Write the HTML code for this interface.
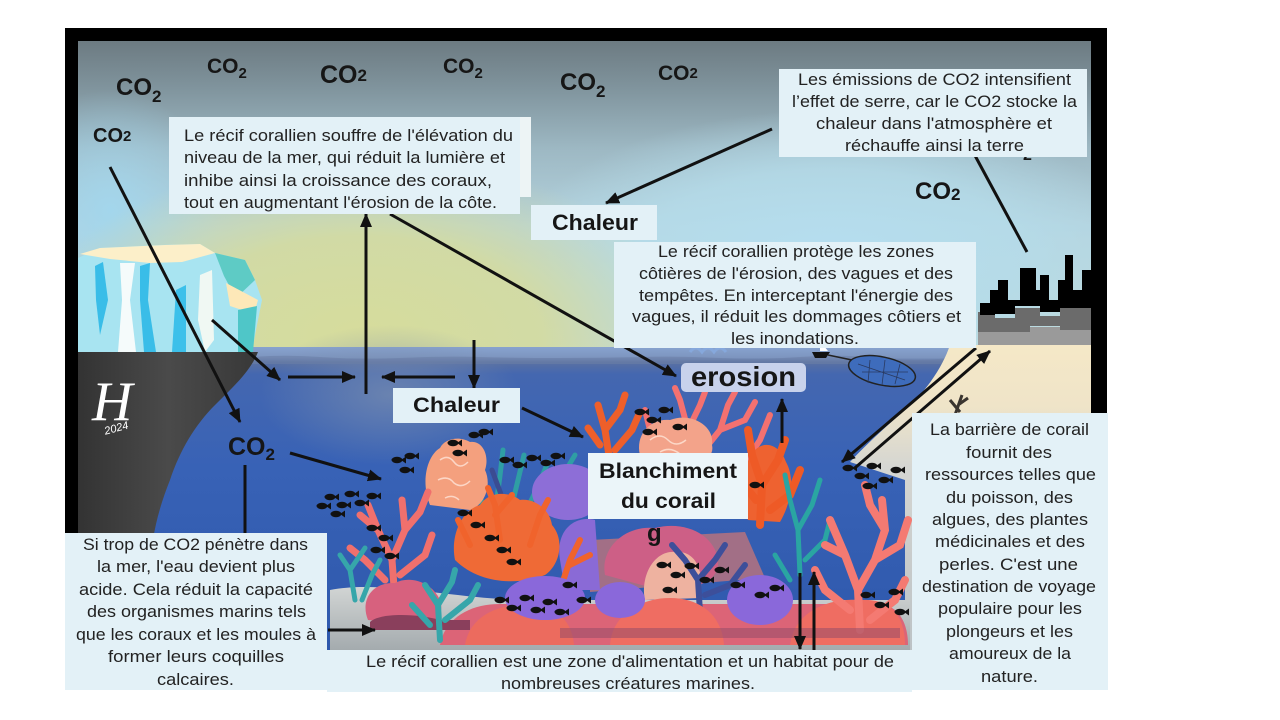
<!DOCTYPE html>
<html><head><meta charset="utf-8"><style>
html,body{margin:0;padding:0;background:#fff;}
svg{display:block}
.t{font-family:"Liberation Sans",Arial,sans-serif;font-size:17px;fill:#222;}
.bd{font-family:"Liberation Sans",Arial,sans-serif;font-weight:bold;fill:#161616;}
</style></head><body>
<svg width="1280" height="720" viewBox="0 0 1280 720" xmlns="http://www.w3.org/2000/svg">
<defs>
<clipPath id="inner"><rect x="78" y="41" width="1013" height="612"/></clipPath>
<linearGradient id="skyG" x1="0" y1="40" x2="0" y2="350" gradientUnits="userSpaceOnUse">
<stop offset="0" stop-color="#6c7a81"/><stop offset="0.15" stop-color="#7f939c"/><stop offset="0.35" stop-color="#9db8c3"/><stop offset="0.6" stop-color="#b4d3de"/><stop offset="1" stop-color="#c2dbd8"/>
</linearGradient>
<radialGradient id="glowG"><stop offset="0" stop-color="#d6dc9c"/><stop offset="0.55" stop-color="#d4db9f" stop-opacity="0.9"/><stop offset="1" stop-color="#d0d9a8" stop-opacity="0"/></radialGradient>
<radialGradient id="blueG"><stop offset="0" stop-color="#b5def0"/><stop offset="0.6" stop-color="#b5dcea" stop-opacity="0.8"/><stop offset="1" stop-color="#b5dcea" stop-opacity="0"/></radialGradient>
<radialGradient id="lblueG"><stop offset="0" stop-color="#a3d6ec"/><stop offset="1" stop-color="#a3d6ec" stop-opacity="0"/></radialGradient>
<linearGradient id="seaG" x1="0" y1="347" x2="0" y2="650" gradientUnits="userSpaceOnUse">
<stop offset="0" stop-color="#88a3cf"/><stop offset="0.035" stop-color="#7d95bf"/><stop offset="0.05" stop-color="#5a71a2"/><stop offset="0.09" stop-color="#4467b0"/><stop offset="0.4" stop-color="#3862b6"/><stop offset="1" stop-color="#2e58ac"/>
</linearGradient>
<radialGradient id="rayG"><stop offset="0" stop-color="#7b8fb0" stop-opacity="0.7"/><stop offset="1" stop-color="#7b8fb0" stop-opacity="0"/></radialGradient>
<linearGradient id="sandG" x1="0" y1="345" x2="0" y2="650" gradientUnits="userSpaceOnUse">
<stop offset="0" stop-color="#f5e8c7"/><stop offset="0.2" stop-color="#efe4c8"/><stop offset="0.4" stop-color="#d5d6d2"/><stop offset="1" stop-color="#bcc2c5"/>
</linearGradient>
<linearGradient id="floorG" x1="0" y1="585" x2="0" y2="650" gradientUnits="userSpaceOnUse">
<stop offset="0" stop-color="#d3d6d5"/><stop offset="1" stop-color="#a4abae"/>
</linearGradient>
<linearGradient id="cliffG" x1="78" y1="0" x2="258" y2="0" gradientUnits="userSpaceOnUse">
<stop offset="0" stop-color="#333"/><stop offset="0.5" stop-color="#4a4a4a"/><stop offset="1" stop-color="#383838"/>
</linearGradient>
<marker id="ah" markerWidth="14" markerHeight="12" refX="13" refY="6" orient="auto" markerUnits="userSpaceOnUse">
<path d="M0,0 L14,6 L0,12 z" fill="#111"/>
</marker>
<g id="f"><ellipse cx="0" cy="0" rx="5.5" ry="3.2" fill="#111"/><path d="M4,0 L9,-3.5 L9,3.5 Z" fill="#111"/></g>
</defs>

<!-- frame -->
<rect x="65" y="28" width="1042" height="630" fill="#000"/>
<g clip-path="url(#inner)">
<!-- sky -->
<rect x="78" y="41" width="1013" height="310" fill="url(#skyG)"/>
<ellipse cx="110" cy="210" rx="110" ry="120" fill="url(#lblueG)"/>
<ellipse cx="830" cy="260" rx="320" ry="150" fill="url(#blueG)"/>
<ellipse cx="360" cy="335" rx="330" ry="180" fill="url(#glowG)"/>
<!-- sea -->
<rect x="78" y="347" width="1013" height="306" fill="url(#seaG)"/>
<ellipse cx="390" cy="395" rx="130" ry="70" fill="url(#rayG)"/>
<path d="M78,358 Q120,354 160,358 T240,358 T320,357 T400,358 T480,357 T560,358 T640,357 T720,358 T800,357 T880,358 T960,357 L960,364 L78,364 Z" fill="#6a7fa6" opacity="0.6"/>
<path d="M690,352 q6,-8 12,0 q6,-8 12,0 q6,-8 12,0" stroke="#86a8dc" stroke-width="3" fill="none"/>

<!-- sand right -->
<path d="M950,345 L1091,345 L1091,653 L905,653 L905,480 L850,462 C870,440 900,415 920,395 C935,378 945,360 950,345 Z" fill="url(#sandG)"/>
<path d="M955,415 L962,395 M958,405 L968,398 M960,412 L950,400" stroke="#3a3530" stroke-width="3" fill="none"/>
<!-- city -->
<path d="M978,345 L978,327 L1091,327 L1091,345 Z" fill="#9a9a9a"/>
<path d="M978,332 L978,312 L995,312 L995,318 L1015,318 L1015,308 L1040,308 L1040,316 L1060,316 L1060,306 L1091,306 L1091,330 L1060,330 L1060,326 L1030,326 L1030,332 Z" fill="#6b6b6b"/>
<path d="M980,315 L980,303 L990,303 L990,290 L998,290 L998,280 L1008,280 L1008,300 L1020,300 L1020,268 L1036,268 L1036,290 L1040,290 L1040,275 L1049,275 L1049,300 L1058,300 L1058,280 L1065,280 L1065,255 L1073,255 L1073,290 L1082,290 L1082,270 L1091,270 L1091,308 L1060,308 L1060,312 L1040,312 L1040,306 L1015,306 L1015,314 L995,314 L995,315 Z" fill="#000"/>

<!-- iceberg -->
<path d="M78,258 L100,248 L160,245 L200,244 L215,253 L245,260 L255,280 L262,300 L256,330 L252,352 L78,352 Z" fill="#a8e4f1"/>
<path d="M80,254 L100,248 L165,245 L200,244 L215,253 L182,262 L150,263 L110,259 Z" fill="#fcefc9"/>
<path d="M215,253 L245,260 L255,280 L236,298 L224,276 Z" fill="#5ecbc5"/>
<path d="M226,283 L258,300 L254,314 L230,306 Z" fill="#fde8b8"/>
<path d="M238,310 L257,306 L253,352 L238,352 Z" fill="#4fc6c8"/>
<path d="M95,266 L103,262 L108,300 L100,335 L96,300 Z" fill="#39bde8"/>
<path d="M140,266 L150,263 L148,300 L156,352 L144,352 L140,300 Z" fill="#39bde8"/>
<path d="M176,290 L186,285 L186,352 L172,352 Z" fill="#3cc0ea"/>
<path d="M120,263 L135,263 L130,300 L136,352 L118,352 L122,300 Z" fill="#f5fbfb"/>
<path d="M200,275 L212,270 L214,340 L205,352 L198,320 Z" fill="#f0f8f3"/>
<!-- cliff -->
<path d="M78,352 L258,352 C250,372 232,388 215,405 C195,425 180,450 170,480 C162,500 156,520 153,540 L78,540 Z" fill="url(#cliffG)"/>
<text x="92" y="420" font-family="Liberation Serif, serif" font-style="italic" font-size="56" fill="#fff">H</text>
<text x="104" y="432" font-family="Liberation Sans, sans-serif" font-style="italic" font-size="11" fill="#fff" transform="rotate(-15 115 428)">2024</text>

<!-- boat & net -->
<path d="M812,352 L830,352 L826,358 L815,358 Z" fill="#111"/>
<path d="M820,341 L820,351 L828,351 Z" fill="#fff"/>
<line x1="828" y1="355" x2="852" y2="360" stroke="#222" stroke-width="1.5"/>
<ellipse cx="882" cy="371" rx="34" ry="14" transform="rotate(12 882 371)" fill="#3e6cbc" stroke="#222" stroke-width="1.5"/>
<path d="M858,364 L905,380 M862,372 L908,372 M870,360 L868,383 M885,360 L882,385 M900,364 L895,384" stroke="#2a3a60" stroke-width="0.8" fill="none"/>

<!-- floor -->
<path d="M330,590 C380,580 450,598 520,600 L910,600 L910,653 L330,653 Z" fill="url(#floorG)"/>

<!-- coral back -->
<g fill="none" stroke-linecap="round">
<g stroke="#2f9ea4" stroke-width="5"><path d="M482,505 Q478,480 474,452 M496,505 Q500,478 503,450 M512,505 Q518,480 524,455 M530,503 Q540,482 548,462 M470,500 L458,470 M560,480 L575,455"/></g>
<g stroke="#3b4c92" stroke-width="5"><path d="M505,505 L492,470 M545,505 L560,472"/></g>
</g>
<ellipse cx="568" cy="492" rx="36" ry="28" fill="#8d6ed7"/>
<path d="M430,505 C420,480 428,455 440,448 C445,438 460,436 470,442 C482,440 490,455 485,470 C492,485 485,505 470,510 Z" fill="#f4a07e"/>
<path d="M440,460 q8,-6 14,2 q6,8 14,0 M438,480 q10,-5 16,3 q8,6 16,-2 M445,498 q8,-4 14,2" stroke="#fcd6c6" stroke-width="1.5" fill="none"/>
<path d="M590,540 L745,532 L765,578 L590,592 Z" fill="#a26f86"/>
<path d="M605,575 C600,548 625,525 655,528 C685,520 715,535 718,560 C720,580 700,590 660,590 Z" fill="#cd5f86"/>
<path d="M645,600 C640,575 655,550 675,552 C695,550 705,570 700,598 Z" fill="#eeb2a0"/>
<path d="M560,560 C555,530 575,515 595,520 L600,590 L565,590 Z" fill="#8a6ad6"/>

<!-- orange mass -->
<path d="M455,560 C450,535 462,510 480,505 C490,490 510,492 520,500 C535,498 550,510 552,525 C565,540 560,565 545,575 C520,585 480,585 455,560 Z" fill="#ef6a36"/>
<g fill="none" stroke-linecap="round" stroke="#f0632c" stroke-width="6">
<path d="M500,540 L495,505 L488,488 M495,515 L512,495 M530,545 L540,515 L548,500 M470,545 L458,520 M560,590 L570,560 L580,540 M570,565 L590,555"/>
</g>

<!-- salmon left -->
<g fill="none" stroke-linecap="round">
<path d="M395,600 L392,560 L378,530 L368,505 M392,560 L405,530 L402,500 M405,530 L420,512 L428,492 M378,530 L360,515 M385,580 L365,560 L350,548 M400,575 L425,555 L432,535" stroke="#f0706d" stroke-width="7"/>
<path d="M355,600 L350,570 L340,555 M350,570 L365,548 M362,600 L372,575 L380,560" stroke="#36a6aa" stroke-width="5"/>
</g>
<path d="M368,620 C360,600 372,582 395,583 C410,575 432,582 440,600 C445,615 435,625 420,625 Z" fill="#d7617e"/>
<!-- continuous base -->
<path d="M440,645 C445,618 470,604 500,604 L880,604 C900,606 908,625 908,645 Z" fill="#dc6477"/>
<path d="M465,645 C470,615 500,603 530,605 C555,605 572,620 574,645 Z" fill="#ec6b5e"/>
<ellipse cx="545" cy="598" rx="40" ry="22" fill="#8a68da"/>
<path d="M370,622 C380,612 420,614 440,620 L470,620 L470,630 L370,630 Z" fill="#8a3f5c"/>
<g fill="none" stroke-linecap="round" stroke="#36a6aa" stroke-width="6">
<path d="M440,640 L438,605 L425,585 M438,605 L452,582 L455,570 M445,620 L470,600 L478,585 M430,625 L412,605"/>
</g>

<!-- upper right corals -->
<g fill="none" stroke-linecap="round">
<path d="M610,462 L605,430 L598,405 M605,430 L620,410 L625,395 M615,450 L632,430 L640,412 M600,445 L588,428" stroke="#ee5f2a" stroke-width="7"/>
<path d="M690,470 L688,430 L680,400 L675,388 M688,430 L700,405 L705,392 M700,455 L720,430 L728,405 L735,392 M720,430 L745,420 L755,402 M740,470 L760,440 L770,415 M660,460 L650,430 L645,410" stroke="#f37170" stroke-width="6"/>
</g>
<path d="M640,455 C635,435 650,418 670,420 C690,412 715,425 712,445 C715,458 700,465 680,462 Z" fill="#f3a38a"/>
<path d="M650,440 q10,-8 18,0 q8,8 18,0 M660,452 q10,-6 20,2" stroke="#fcd8c8" stroke-width="1.5" fill="none"/>
<path d="M748,520 C738,495 742,465 755,450 C765,440 780,445 786,462 C796,480 790,505 780,522 Z" fill="#ee6230"/>
<g fill="none" stroke-linecap="round">
<path d="M760,525 L762,485 L752,455 L748,430 M762,485 L778,460 L785,440 M756,500 L740,480 M770,510 L790,495 L800,470" stroke="#ee5a26" stroke-width="8"/>
<path d="M800,575 L798,530 L790,500 L785,475 M798,530 L812,505 L820,480 M805,560 L825,540 L830,520 M790,580 L775,555" stroke="#2aa5a2" stroke-width="5"/>
<path d="M700,612 L698,580 L685,560 L672,545 M698,580 L715,560 L725,545 M705,595 L730,585 L745,565" stroke="#3d4f9a" stroke-width="6"/>
</g>
<ellipse cx="760" cy="600" rx="33" ry="25" fill="#8a68da"/>
<path d="M610,645 C612,615 640,598 670,598 C700,598 722,615 724,645 Z" fill="#ef6d62"/>
<path d="M790,645 C795,610 830,598 860,600 C890,598 905,615 905,645 Z" fill="#ef6d62"/>
<ellipse cx="620" cy="600" rx="25" ry="18" fill="#8a68da"/>
<g fill="none" stroke-linecap="round" stroke="#f47a72" stroke-width="8">
<path d="M860,630 L858,590 L845,555 L830,520 M858,590 L875,560 L885,530 L882,500 M875,560 L900,545 L908,520 M845,555 L825,545 M870,620 L895,600 L905,580 M850,610 L825,590 L815,570 M885,530 L870,505 L865,485"/>
</g>
<path d="M560,628 L900,628 L900,638 L560,638 Z" fill="#8e4a68" opacity="0.5"/>

<!-- fish -->
<g>
<use href="#f" x="330" y="497"/><use href="#f" x="342" y="505"/><use href="#f" x="350" y="494"/><use href="#f" x="360" y="503"/><use href="#f" x="372" y="496"/><use href="#f" x="336" y="514"/><use href="#f" x="322" y="506"/>
<use href="#f" x="372" y="528"/><use href="#f" x="384" y="538"/><use href="#f" x="376" y="550"/><use href="#f" x="390" y="556"/>
<use href="#f" x="397" y="460"/><use href="#f" x="410" y="456"/><use href="#f" x="405" y="470"/>
<use href="#f" x="453" y="443"/><use href="#f" x="458" y="453"/><use href="#f" x="474" y="435"/><use href="#f" x="484" y="432"/>
<use href="#f" x="505" y="460"/><use href="#f" x="518" y="465"/><use href="#f" x="532" y="458"/><use href="#f" x="546" y="463"/><use href="#f" x="556" y="456"/>
<use href="#f" x="463" y="513"/><use href="#f" x="476" y="525"/><use href="#f" x="490" y="538"/><use href="#f" x="502" y="550"/><use href="#f" x="512" y="562"/>
<use href="#f" x="500" y="600"/><use href="#f" x="512" y="608"/><use href="#f" x="525" y="598"/><use href="#f" x="536" y="610"/><use href="#f" x="548" y="602"/><use href="#f" x="560" y="612"/>
<use href="#f" x="640" y="412"/><use href="#f" x="652" y="420"/><use href="#f" x="664" y="410"/><use href="#f" x="678" y="427"/><use href="#f" x="648" y="432"/>
<use href="#f" x="755" y="485"/>
<use href="#f" x="848" y="468"/><use href="#f" x="860" y="476"/><use href="#f" x="872" y="466"/><use href="#f" x="884" y="480"/><use href="#f" x="896" y="470"/><use href="#f" x="868" y="486"/>
<use href="#f" x="662" y="565"/><use href="#f" x="676" y="575"/><use href="#f" x="690" y="566"/><use href="#f" x="705" y="580"/><use href="#f" x="720" y="570"/><use href="#f" x="736" y="585"/><use href="#f" x="760" y="595"/><use href="#f" x="775" y="588"/><use href="#f" x="668" y="590"/>
<use href="#f" x="866" y="595"/><use href="#f" x="880" y="605"/><use href="#f" x="894" y="592"/><use href="#f" x="900" y="612"/>
<use href="#f" x="568" y="585"/><use href="#f" x="582" y="600"/>
</g>
</g>

<!-- CO2 labels -->
<g class="bd" fill="#1c1c1c">
<text x="116" y="95" font-size="24">CO<tspan font-size="17" dy="7">2</tspan></text>
<text x="207" y="73" font-size="21">CO<tspan font-size="15" dy="5">2</tspan></text>
<text x="320" y="83" font-size="25">CO<tspan font-size="17" dy="-2">2</tspan></text>
<text x="443" y="73" font-size="21">CO<tspan font-size="15" dy="5">2</tspan></text>
<text x="560" y="90" font-size="24">CO<tspan font-size="17" dy="7">2</tspan></text>
<text x="658" y="80" font-size="21">CO<tspan font-size="15" dy="-2">2</tspan></text>
<text x="93" y="142" font-size="20">CO<tspan font-size="15" dy="-1">2</tspan></text>
<text x="915" y="199" font-size="24">CO<tspan font-size="17" dy="1">2</tspan></text>
<text x="990" y="152" font-size="22">CO<tspan font-size="16" dy="8">2</tspan></text>
<text x="228" y="455" font-size="25">CO<tspan font-size="17" dy="5">2</tspan></text>
</g>

<!-- arrows -->
<g stroke="#111" stroke-width="3" fill="none">
<line x1="110" y1="167" x2="240" y2="422" marker-end="url(#ah)"/>
<line x1="212" y1="320" x2="280" y2="380" marker-end="url(#ah)"/>
<line x1="288" y1="377" x2="355" y2="377" marker-end="url(#ah)"/>
<line x1="366" y1="394" x2="366" y2="214" marker-end="url(#ah)"/>
<line x1="455" y1="377" x2="382" y2="377" marker-end="url(#ah)"/>
<line x1="474" y1="340" x2="474" y2="388" marker-end="url(#ah)"/>
<line x1="390" y1="214" x2="676" y2="376" marker-end="url(#ah)"/>
<line x1="522" y1="408" x2="583" y2="437" marker-end="url(#ah)"/>
<line x1="772" y1="129" x2="606" y2="203" marker-end="url(#ah)"/>
<line x1="972" y1="150" x2="1027" y2="252"/>
<line x1="782" y1="443" x2="782" y2="399" marker-end="url(#ah)"/>
<line x1="976" y1="348" x2="842" y2="462" marker-end="url(#ah)"/>
<line x1="856" y1="467" x2="990" y2="351" marker-end="url(#ah)"/>
<line x1="800" y1="573" x2="800" y2="649" marker-end="url(#ah)"/>
<line x1="814" y1="650" x2="814" y2="572" marker-end="url(#ah)"/>
<line x1="290" y1="453" x2="381" y2="479" marker-end="url(#ah)"/>
<line x1="245" y1="465" x2="245" y2="535"/>
<line x1="328" y1="630" x2="375" y2="630" marker-end="url(#ah)"/>
</g>

<!-- boxes -->
<rect x="520" y="117" width="11" height="80" fill="#edf4f5"/>
<rect x="169" y="117" width="351" height="97" fill="#e3f1f7"/>
<rect x="779" y="69" width="308" height="88" fill="#e3f1f7"/>
<rect x="531" y="205" width="126" height="35" fill="#e3f1f7"/>
<rect x="614" y="242" width="362" height="106" fill="#e3f1f7"/>
<rect x="393" y="388" width="127" height="35" fill="#e3f1f7"/>
<rect x="681" y="363" width="125" height="29" rx="5" fill="#c8d2ec"/>
<rect x="588" y="453" width="160" height="66" fill="#ebf5f9"/>
<rect x="912" y="413" width="196" height="277" fill="#e3f1f7"/>
<rect x="65" y="533" width="262" height="157" fill="#e3f1f7"/>
<rect x="327" y="650" width="585" height="42" fill="#e3f1f7"/>

<!-- labels -->
<text class="bd" x="552" y="230" font-size="22" textLength="86" lengthAdjust="spacingAndGlyphs">Chaleur</text>
<text class="bd" x="413" y="412" font-size="21" textLength="87" lengthAdjust="spacingAndGlyphs">Chaleur</text>
<text class="bd" x="691" y="386" font-size="28" fill="#262632" textLength="105" lengthAdjust="spacingAndGlyphs">erosion</text>
<text class="bd" x="599" y="478" font-size="21" textLength="138" lengthAdjust="spacingAndGlyphs">Blanchiment</text>
<text class="bd" x="621" y="508" font-size="21" textLength="95" lengthAdjust="spacingAndGlyphs">du corail</text>
<text class="bd" x="647" y="541" font-size="24">g</text>

<!-- body text -->
<g class="t">
<text x="184" y="141" textLength="329" lengthAdjust="spacingAndGlyphs">Le récif corallien souffre de l'élévation du</text>
<text x="184" y="163" textLength="321" lengthAdjust="spacingAndGlyphs">niveau de la mer, qui réduit la lumière et</text>
<text x="184" y="186" textLength="308" lengthAdjust="spacingAndGlyphs">inhibe ainsi la croissance des coraux,</text>
<text x="184" y="208" textLength="313" lengthAdjust="spacingAndGlyphs">tout en augmentant l'érosion de la côte.</text>

<text x="798" y="85" textLength="273" lengthAdjust="spacingAndGlyphs">Les émissions de CO2 intensifient</text>
<text x="792" y="107" textLength="285" lengthAdjust="spacingAndGlyphs">l’effet de serre, car le CO2 stocke la</text>
<text x="816" y="129" textLength="236" lengthAdjust="spacingAndGlyphs">chaleur dans l'atmosphère et</text>
<text x="845" y="151" textLength="179" lengthAdjust="spacingAndGlyphs">réchauffe ainsi la terre</text>

<text x="658" y="257" textLength="276" lengthAdjust="spacingAndGlyphs">Le récif corallien protège les zones</text>
<text x="639" y="279" textLength="314" lengthAdjust="spacingAndGlyphs">côtières de l'érosion, des vagues et des</text>
<text x="639" y="301" textLength="314" lengthAdjust="spacingAndGlyphs">tempêtes. En interceptant l'énergie des</text>
<text x="632" y="322" textLength="329" lengthAdjust="spacingAndGlyphs">vagues, il réduit les dommages côtiers et</text>
<text x="731" y="344" textLength="128" lengthAdjust="spacingAndGlyphs">les inondations.</text>

<text x="930" y="435" textLength="159" lengthAdjust="spacingAndGlyphs">La barrière de corail</text>
<text x="966" y="458" textLength="86" lengthAdjust="spacingAndGlyphs">fournit des</text>
<text x="925" y="480" textLength="171" lengthAdjust="spacingAndGlyphs">ressources telles que</text>
<text x="946" y="503" textLength="127" lengthAdjust="spacingAndGlyphs">du poisson, des</text>
<text x="932" y="525" textLength="156" lengthAdjust="spacingAndGlyphs">algues, des plantes</text>
<text x="935" y="547" textLength="150" lengthAdjust="spacingAndGlyphs">médicinales et des</text>
<text x="939" y="570" textLength="139" lengthAdjust="spacingAndGlyphs">perles. C'est  une</text>
<text x="922" y="592" textLength="174" lengthAdjust="spacingAndGlyphs">destination de voyage</text>
<text x="938" y="614" textLength="144" lengthAdjust="spacingAndGlyphs">populaire pour les</text>
<text x="946" y="637" textLength="127" lengthAdjust="spacingAndGlyphs">plongeurs et les</text>
<text x="949" y="659" textLength="122" lengthAdjust="spacingAndGlyphs">amoureux de la</text>
<text x="981" y="682" textLength="57" lengthAdjust="spacingAndGlyphs">nature.</text>

<text x="83" y="550" textLength="225" lengthAdjust="spacingAndGlyphs">Si trop de CO2 pénètre dans</text>
<text x="97" y="572" textLength="198" lengthAdjust="spacingAndGlyphs">la mer, l'eau devient plus</text>
<text x="79" y="595" textLength="234" lengthAdjust="spacingAndGlyphs">acide. Cela réduit la capacité</text>
<text x="87" y="617" textLength="219" lengthAdjust="spacingAndGlyphs">des organismes marins tels</text>
<text x="76" y="640" textLength="240" lengthAdjust="spacingAndGlyphs">que les coraux et les moules à</text>
<text x="108" y="662" textLength="176" lengthAdjust="spacingAndGlyphs">former leurs coquilles</text>
<text x="157" y="685" textLength="77" lengthAdjust="spacingAndGlyphs">calcaires.</text>

<text x="366" y="667" textLength="528" lengthAdjust="spacingAndGlyphs">Le récif corallien est une zone d'alimentation et un habitat pour de</text>
<text x="501" y="689" textLength="254" lengthAdjust="spacingAndGlyphs">nombreuses créatures marines.</text>
</g>
</svg>
</body></html>
